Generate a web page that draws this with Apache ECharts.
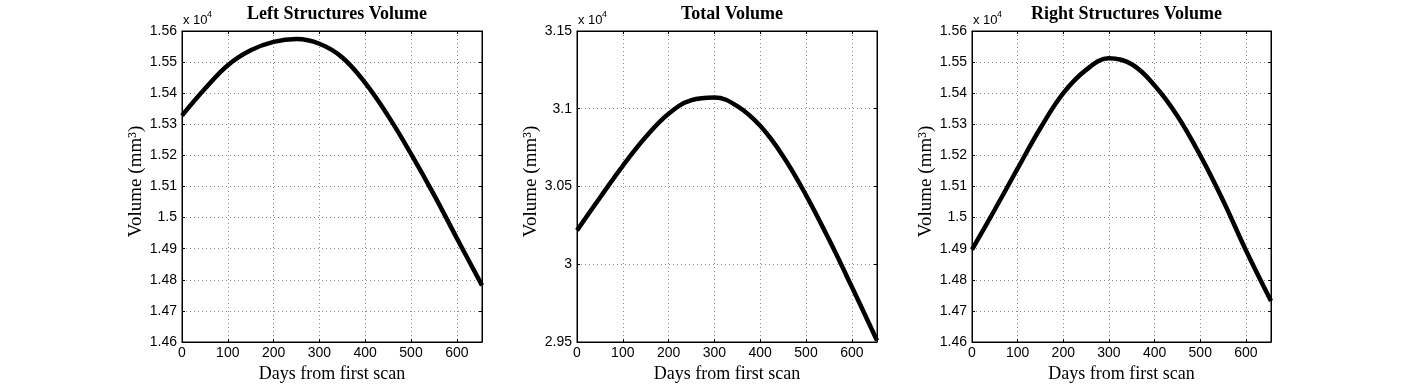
<!DOCTYPE html>
<html>
<head>
<meta charset="utf-8">
<script src="https://cdn.jsdelivr.net/npm/echarts@6/dist/echarts.min.js"></script>
<style>
html,body{margin:0;padding:0;background:#fff;}
#c{width:1404px;height:385px;}
</style>
</head>
<body>
<div id="c"></div>
<script>
// ---- data (values in units of 10^4 mm^3) ----
const days = [0, 50, 100, 150, 200, 250, 300, 350, 400, 450, 500, 550, 600, 655];
const leftVol  = [1.5328, 1.5414, 1.5490, 1.5538, 1.5565, 1.5574, 1.5559, 1.5515, 1.5433, 1.5327, 1.5205, 1.5074, 1.4934, 1.4782];
const totalVol = [3.0218, 3.0428, 3.0633, 3.0818, 3.0968, 3.1055, 3.1072, 3.1017, 3.0890, 3.0695, 3.0445, 3.0160, 2.9855, 2.9510];
const rightVol = [1.4897, 1.5026, 1.5158, 1.5288, 1.5400, 1.5475, 1.5512, 1.5493, 1.5425, 1.5327, 1.5200, 1.5055, 1.4895, 1.4732];
const titles = ['Left Structures Volume', 'Total Volume', 'Right Structures Volume'];
const xLabel = 'Days from first scan';
const yLabel = 'Volume (mm\u00B3)';
const yRanges = [[1.46, 1.56, 0.01], [2.95, 3.15, 0.05], [1.46, 1.56, 0.01]];
const xMin = 0, xMax = 655, xStep = 100;
const seriesData = [leftVol, totalVol, rightVol];

// ---- layout ----
const grids = [
  {left: 182, top: 31, width: 300, height: 311},
  {left: 577, top: 31, width: 300, height: 311},
  {left: 972, top: 31, width: 299, height: 311}
];
const sans = 'Liberation Sans, Arial, Helvetica, sans-serif';
const serif = 'Liberation Serif, Times New Roman, serif';
const gridLine = {show: true, lineStyle: {color: '#8a8a8a', width: 1, type: [1, 3]}};

const option = {
  animation: false,
  backgroundColor: '#fff',
  title: titles.map((t, i) => ({
    text: t,
    left: grids[i].left + grids[i].width / 2,
    textAlign: 'center',
    top: 0,
    textStyle: {fontFamily: serif, fontWeight: 'bold', fontSize: 18, color: '#000'}
  })),
  grid: grids.map(g => Object.assign({
    show: true, borderColor: '#000', borderWidth: 1, backgroundColor: 'transparent',
    containLabel: false, outerBoundsMode: 'none'
  }, g)),
  xAxis: [],
  yAxis: [],
  series: [],
  graphic: []
};

grids.forEach((g, i) => {
  const [ymin, ymax, ystep] = yRanges[i];
  option.xAxis.push({
    type: 'value', gridIndex: i, min: xMin, max: xMax, interval: xStep,
    position: 'bottom',
    name: xLabel, nameLocation: 'middle', nameGap: 21,
    nameTextStyle: {fontFamily: serif, fontSize: 18, color: '#000'},
    axisLine: {show: true, onZero: false, lineStyle: {color: '#000', width: 1}},
    axisTick: {show: true, inside: true, length: 3, lineStyle: {color: '#000'}},
    axisLabel: {show: true, margin: 4, color: '#000', fontFamily: sans, fontSize: 14, showMaxLabel: false},
    splitLine: gridLine
  });
  option.xAxis.push({
    type: 'value', gridIndex: i, min: xMin, max: xMax, interval: xStep,
    position: 'top',
    axisLine: {show: true, onZero: false, lineStyle: {color: '#000', width: 1}},
    axisTick: {show: true, inside: true, length: 3, lineStyle: {color: '#000'}},
    axisLabel: {show: false},
    splitLine: {show: false}
  });
  option.yAxis.push({
    type: 'value', gridIndex: i, min: ymin, max: ymax, interval: ystep,
    position: 'left',
    name: yLabel, nameLocation: 'middle', nameGap: 36,
    nameTextStyle: {fontFamily: serif, fontSize: 19, color: '#000', padding: [0, 0, 0, 10]},
    axisLine: {show: true, onZero: false, lineStyle: {color: '#000', width: 1}},
    axisTick: {show: true, inside: true, length: 3, lineStyle: {color: '#000'}},
    axisLabel: {show: true, margin: 5, color: '#000', fontFamily: sans, fontSize: 14},
    splitLine: gridLine
  });
  option.yAxis.push({
    type: 'value', gridIndex: i, min: ymin, max: ymax, interval: ystep,
    position: 'right',
    axisLine: {show: true, onZero: false, lineStyle: {color: '#000', width: 1}},
    axisTick: {show: true, inside: true, length: 3, lineStyle: {color: '#000'}},
    axisLabel: {show: false},
    splitLine: {show: false}
  });
  option.series.push({
    type: 'line',
    xAxisIndex: i * 2, yAxisIndex: i * 2,
    data: days.map((d, k) => [d, seriesData[i][k]]),
    smooth: 0.4,
    showSymbol: false, symbol: 'none',
    lineStyle: {color: '#000', width: 4.5},
    clip: true
  });
  option.graphic.push({
    type: 'text', left: g.left + 1, top: 14,
    style: {text: 'x 10', font: '13px ' + sans, fill: '#000'}
  });
  option.graphic.push({
    type: 'text', left: g.left + 25, top: 10,
    style: {text: '4', font: '9px ' + sans, fill: '#000'}
  });
});

const chart = echarts.init(document.getElementById('c'), null, {renderer: 'canvas'});
chart.setOption(option);
</script>
</body>
</html>
